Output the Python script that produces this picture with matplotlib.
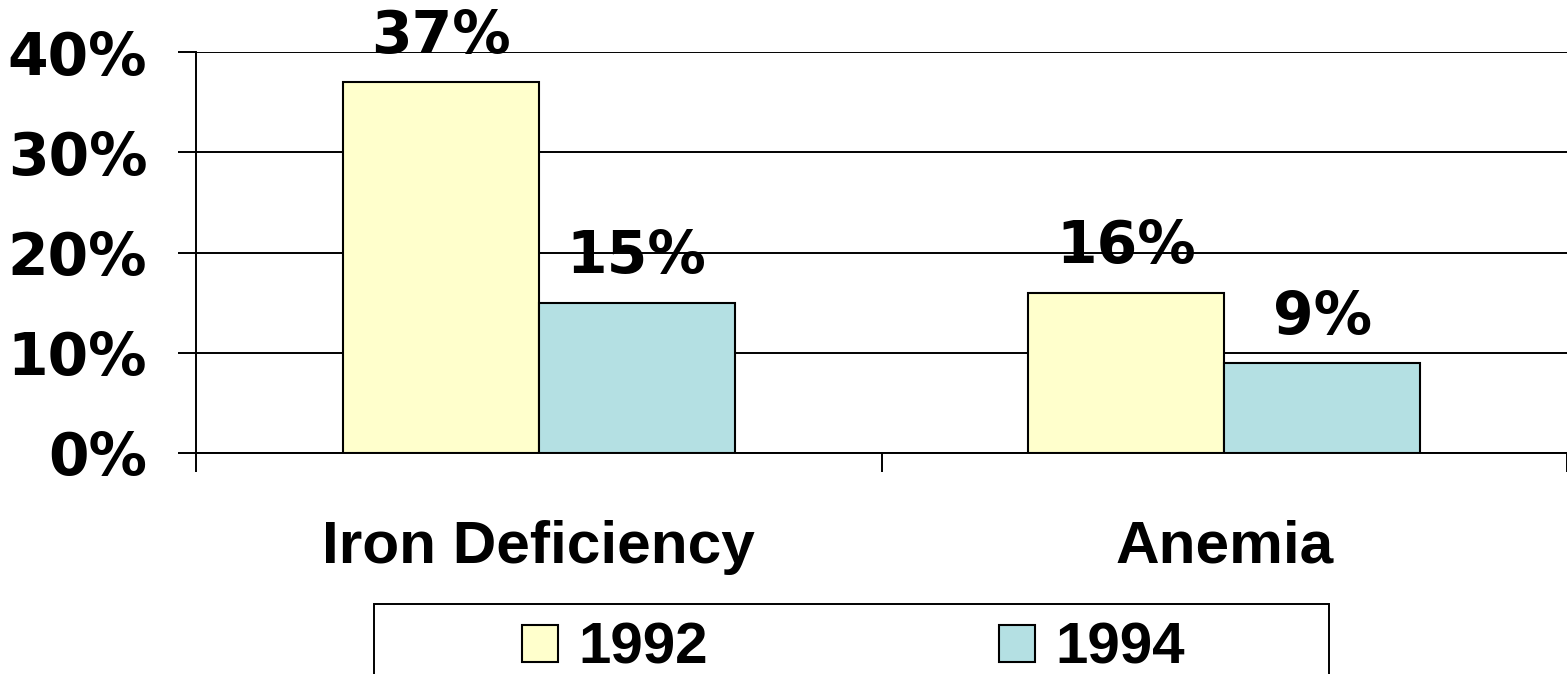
import numpy as np
import matplotlib
matplotlib.use('Agg')
import matplotlib.pyplot as plt
from matplotlib.patches import Rectangle

# data
categories = ['Iron Deficiency', 'Anemia']
years = ['1992', '1994']
values_1992 = [37, 16]
values_1994 = [15, 9]
yticks = [0, 10, 20, 30, 40]
ytick_labels = ['0%', '10%', '20%', '30%', '40%']

colors = ['#FFFFCC', '#B4E0E3']
barWidth = 1.0 / 3.5

fig = plt.figure(figsize=(15.67, 6.74), dpi=100)
ax = fig.add_axes([196/1567, 1 - 453/674, 1 - 196/1567, (453 - 52)/674])

x = np.arange(len(categories))
series = [values_1992, values_1994]
for i, vals in enumerate(series):
    pos = x - barWidth/2 + i*barWidth
    bars = ax.bar(pos, vals, width=barWidth, color=colors[i], edgecolor='black',
                  linewidth=1.5, label=years[i], zorder=3)
    for b, v in zip(bars, vals):
        ax.annotate('%d%%' % v, (b.get_x() + b.get_width()/2, v),
                    xytext=(0, 21), textcoords='offset points',
                    ha='center', va='baseline', fontsize=42,
                    fontweight='bold', family='DejaVu Sans', zorder=4)

ax.set_xlim(-0.5, len(categories) - 0.5)
ax.set_ylim(0, 40)

# y axis
ax.set_yticks(yticks)
ax.set_yticklabels(ytick_labels, fontsize=42, fontweight='bold', family='DejaVu Sans')
ax.tick_params(axis='y', length=13, width=1.4, pad=22, color='black')
ax.yaxis.grid(True, color='black', linewidth=1.4, zorder=0)

# x axis: ticks at boundaries, labels at centres
ax.set_xticks(np.arange(len(categories) + 1) - 0.5)
ax.set_xticklabels([])
ax.set_xticks(x, minor=True)
ax.set_xticklabels(categories, minor=True, fontsize=43.5, fontweight='bold',
                   family='Liberation Sans')
ax.tick_params(axis='x', which='major', length=14, width=1.4, color='black')
ax.tick_params(axis='x', which='minor', length=0, pad=48)

for s in ['top', 'right']:
    ax.spines[s].set_visible(False)
ax.spines['left'].set_linewidth(1.4)
ax.spines['bottom'].set_linewidth(1.4)
ax.set_axisbelow(True)

# legend with manual frame
fig.add_artist(Rectangle((374/1567, -0.1), (1329 - 374)/1567, 0.1 + (674 - 604)/674,
                         transform=fig.transFigure, facecolor='white',
                         edgecolor='black', linewidth=1.4))
leg = fig.legend(loc='upper left', bbox_to_anchor=(522/1567, 1 - 622/674),
                 ncol=2, frameon=False, borderpad=0, borderaxespad=0,
                 columnspacing=5.0, handlelength=0.62, handleheight=0.6,
                 handletextpad=0.34,
                 prop={'family': 'Liberation Sans', 'weight': 'bold', 'size': 42})

fig.savefig('out.png', dpi=100)
